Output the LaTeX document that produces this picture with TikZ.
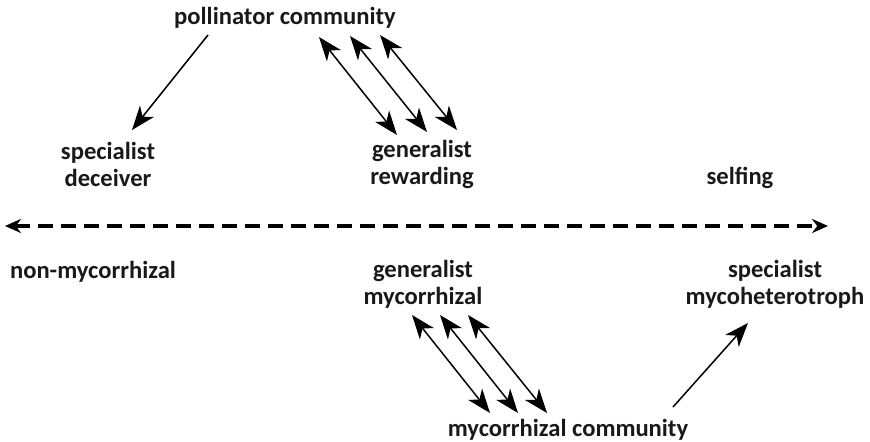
\documentclass[tikz,border=0pt]{standalone}
\usepackage{fontspec}
\setmainfont{Carlito}
\usetikzlibrary{arrows.meta}

\tikzset{
  lbl/.style={font=\fontsize{12.3}{13.5}\selectfont\bfseries, align=center, inner sep=0pt, text=black!90},
  link/.style={line width=0.75pt, -{Stealth[length=12pt,width=9pt,inset=3.5pt]}},
  dlink/.style={line width=0.75pt, {Stealth[length=12pt,width=9pt,inset=3.5pt]}-{Stealth[length=12pt,width=9pt,inset=3.5pt]}},
  axis/.style={line width=2.2pt, dash pattern=on 7.5pt off 4pt, {Stealth[length=8pt,width=7pt]}-{Stealth[length=8pt,width=7pt]}}
}

\begin{document}
\begin{tikzpicture}[x=0.5pt, y=-0.5pt]
\useasboundingbox (0,0) rectangle (870,442);
%--- labels ---
\node[lbl] (poll) at (285,18) {pollinator community};
\node[lbl] (spdec) at (108,164) {specialist\\deceiver};
\node[lbl] (genrew) at (422,164) {generalist\\rewarding};
\node[lbl] (self) at (740,178) {selfing};
\node[lbl] (nonmyc) at (93,272) {non-mycorrhizal};
\node[lbl] (genmyc) at (423,284) {generalist\\mycorrhizal};
\node[lbl] (spmyc) at (775,284) {specialist\\mycoheterotroph};
\node[lbl] (myc) at (568,430) {mycorrhizal community};
%--- ends of the gradient axis ---
\coordinate (axL) at (5,226);
\coordinate (axR) at (828,226);
\draw[axis] (axL) -- (axR);
%--- pollinators ---
\coordinate (p0) at (208,35);
\coordinate (p1) at (132,130);
\draw[link] (p0) -- (p1);
\foreach \i/\xa/\ya/\xb/\yb in {a/319/37/397/135, b/350/36/427/132, c/380/35/457/130}{
  \coordinate (pt\i) at (\xa,\ya);
  \coordinate (pb\i) at (\xb,\yb);
  \draw[dlink] (pt\i) -- (pb\i);
}
%--- mycorrhizal fungi ---
\foreach \i/\xa/\ya/\xb/\yb in {a/412/315/490/413, b/440/315/518/413, c/468/315/547/413}{
  \coordinate (mt\i) at (\xa,\ya);
  \coordinate (mb\i) at (\xb,\yb);
  \draw[dlink] (mt\i) -- (mb\i);
}
\coordinate (m0) at (673,407);
\coordinate (m1) at (748,323);
\draw[link] (m0) -- (m1);
\end{tikzpicture}
\end{document}
